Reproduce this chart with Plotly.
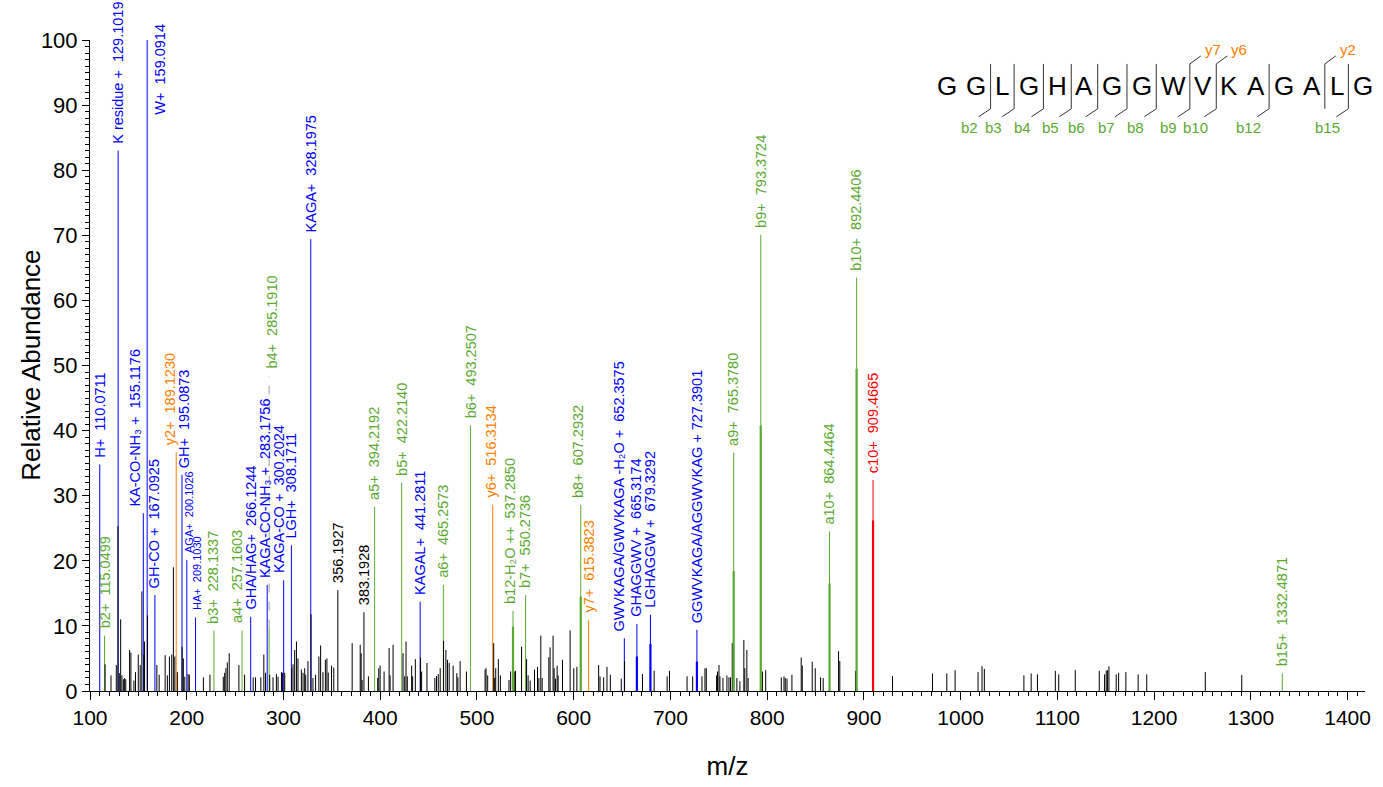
import plotly.graph_objects as go

# ---------------- annotated fragment ions ----------------
ion_mz = [110.0711, 115.0499, 129.1019, 155.1176, 159.0914, 167.0925, 189.1230, 195.0873,
          200.1026, 209.1030, 228.1337, 257.1603, 266.1244, 283.1756, 285.1910, 300.2024,
          308.1711, 328.1975, 356.1927, 383.1928, 394.2192, 422.2140, 441.2811, 465.2573,
          493.2507, 516.3134, 537.2850, 550.2736, 607.2932, 615.3823, 652.3575, 665.3174,
          679.3292, 727.3901, 765.3780, 793.3724, 864.4464, 892.4406, 909.4665, 1332.4871]
ion_int = [34.8, 8.5, 83.0, 27.3, 100.0, 14.75, 36.7, 33.2,
           20.1, 11.3, 9.3, 9.3, 11.4, 16.3, 9.6, 17.0,
           22.4, 69.4, 15.5, 12.1, 28.3, 32.0, 13.7, 16.3,
           40.8, 28.6, 12.3, 14.75, 28.6, 10.9, 8.1, 10.3,
           11.7, 9.4, 36.6, 70.1, 24.5, 63.5, 32.4, 2.7]
# darker centroid core drawn inside some annotated sticks
ion_core = [None, None, None, None, None, None, None, None,
            None, None, None, None, None, None, None, None,
            None, None, None, None, None, None, None, None,
            None, None, 9.9, None, 14.5, None, None, 5.3,
            7.2, 4.5, 18.4, 40.8, 16.5, 49.5, 26.2, None]
ion_label = ["H+  110.0711", "b2+  115.0499", "K residue +  129.1019", "KA-CO-NH\u2083 +  155.1176",
             "W+  159.0914", "GH-CO +  167.0925", "y2+  189.1230", "GH+  195.0873",
             "AGA+  200.1026", "HA+  209.1030", "b3+  228.1337", "a4+  257.1603",
             "GHA/HAG+  266.1244", "KAGA-CO-NH\u2083 +  283.1756", "b4+  285.1910", "KAGA-CO +  300.2024",
             "LGH+  308.1711", "KAGA+  328.1975", "356.1927", "383.1928",
             "a5+  394.2192", "b5+  422.2140", "KAGAL+  441.2811", "a6+  465.2573",
             "b6+  493.2507", "y6+  516.3134", "b12-H\u2082O ++  537.2850", "b7+  550.2736",
             "b8+  607.2932", "y7+  615.3823", "GWVKAGA/GWVKAGA -H\u2082O +  652.3575", "GHAGGWV +  665.3174",
             "LGHAGGW +  679.3292", "GGWVKAGA/AGGWVKAG + 727.3901", "a9+  765.3780", "b9+  793.3724",
             "a10+  864.4464", "b10+  892.4406", "c10+  909.4665", "b15+  1332.4871"]
ion_kind = ["int", "b", "int", "int", "int", "int", "y", "int",
            "int", "int", "b", "b", "int", "int", "b", "int",
            "int", "int", "unk", "unk", "b", "b", "int", "b",
            "b", "y", "b", "b", "b", "y", "int", "int",
            "int", "int", "b", "b", "b", "b", "c", "b"]

# ---------------- unassigned peaks ----------------
peak_mz = [115.6, 121.7, 127.2, 128.9, 130.3, 131.7, 133.0, 134.5, 135.8, 137.0,
           140.9, 142.3, 145.4, 147.0, 149.9, 151.9, 153.6, 155.7, 156.4, 159.4,
           169.1, 171.5, 177.7, 180.0, 182.1, 184.5, 186.2, 187.7, 190.3, 195.2,
           196.5, 198.0, 201.4, 202.7, 217.2, 224.0, 237.8, 239.2, 240.5, 241.9,
           243.9, 253.9, 259.8, 268.7, 271.1, 276.6, 279.7, 281.4, 285.8, 289.2,
           292.7, 294.4, 297.9, 298.9, 301.3, 308.5, 309.9, 311.6, 313.4, 315.0,
           318.5, 320.2, 321.9, 323.0, 325.3, 328.5, 330.5, 333.2, 336.6, 338.4,
           340.8, 343.3, 344.9, 346.3, 349.7, 352.0, 371.0, 379.3, 380.3, 381.3,
           387.8, 397.4, 398.5, 399.9, 404.0, 409.2, 410.2, 413.3, 423.6, 425.3,
           426.7, 428.0, 432.5, 433.5, 436.3, 441.7, 442.8, 448.3, 456.5, 458.2,
           460.0, 462.0, 465.5, 467.9, 469.6, 471.3, 475.4, 479.2, 480.3, 482.6,
           489.1, 508.4, 509.4, 511.1, 517.3, 518.3, 519.4, 522.1, 524.2, 533.1,
           534.8, 538.5, 539.9, 546.1, 551.3, 552.9, 555.0, 559.5, 562.6, 564.0,
           566.0, 567.4, 574.3, 575.6, 578.7, 579.8, 581.2, 582.9, 583.9, 588.4,
           596.3, 600.1, 603.3, 625.8, 627.2, 631.0, 634.4, 637.9, 649.2, 652.6,
           671.1, 683.2, 696.6, 699.0, 717.2, 723.0, 732.6, 735.7, 737.1, 747.7,
           748.7, 750.2, 751.2, 754.3, 758.4, 760.5, 762.1, 763.9, 768.7, 771.8,
           775.9, 776.9, 779.0, 780.3, 795.1, 798.5, 814.6, 817.4, 818.7, 820.5,
           825.6, 835.2, 836.3, 846.6, 849.7, 855.2, 857.9, 873.8, 875.1, 891.3,
           929.6, 970.9, 985.7, 994.3, 1018.0, 1022.1, 1024.5, 1065.4, 1072.9, 1079.4,
           1097.9, 1101.4, 1118.5, 1143.3, 1148.8, 1150.5, 1151.9, 1153.3, 1160.8, 1163.3,
           1170.8, 1183.5, 1192.4, 1252.9, 1290.6]
peak_int = [4.1, 2.4, 4.0, 25.3, 2.75, 11.0, 2.4, 1.8, 2.0, 1.8,
            6.3, 5.9, 1.6, 2.9, 5.6, 4.0, 15.3, 5.6, 7.6, 11.6,
            4.0, 2.5, 5.5, 2.4, 5.3, 5.6, 19.0, 5.3, 2.9, 6.8,
            5.0, 2.2, 2.6, 2.5, 2.1, 2.5, 2.2, 2.8, 3.5, 4.4,
            5.8, 4.0, 2.5, 2.1, 2.1, 2.1, 5.6, 2.8, 2.5, 2.1,
            2.6, 2.2, 2.9, 2.8, 2.8, 3.5, 4.1, 6.3, 7.6, 5.0,
            3.3, 2.8, 3.5, 2.5, 4.6, 11.8, 2.0, 2.5, 5.3, 7.0,
            2.9, 4.8, 5.0, 2.8, 3.9, 3.6, 7.35, 7.1, 5.8, 1.7,
            2.25, 2.0, 3.5, 3.9, 3.0, 6.6, 2.4, 7.1, 5.8, 2.25,
            7.6, 2.25, 3.9, 2.25, 4.9, 5.15, 3.0, 4.3, 2.0, 2.3,
            2.6, 3.5, 7.7, 6.3, 4.8, 4.3, 3.9, 2.75, 2.1, 4.6,
            3.0, 3.3, 3.5, 2.4, 7.35, 2.0, 3.5, 4.9, 2.4, 1.7,
            3.0, 3.0, 3.1, 6.8, 4.9, 2.4, 1.6, 3.3, 3.7, 2.0,
            8.5, 2.0, 5.2, 6.7, 8.5, 3.5, 1.9, 3.9, 2.4, 4.8,
            9.3, 3.5, 3.7, 4.0, 2.25, 2.1, 3.7, 2.5, 1.9, 4.6,
            2.6, 3.1, 2.25, 3.1, 2.25, 2.25, 2.25, 3.5, 3.5, 2.4,
            3.0, 4.0, 2.25, 2.0, 2.4, 2.1, 2.1, 7.35, 2.0, 1.5,
            7.85, 3.5, 6.3, 2.0, 3.0, 3.2, 2.1, 2.25, 2.0, 1.9,
            2.5, 5.15, 3.9, 4.5, 3.5, 2.1, 2.0, 6.1, 4.6, 3.1,
            2.3, 2.7, 2.7, 3.2, 2.9, 3.8, 3.4, 2.4, 2.7, 2.55,
            3.1, 2.55, 3.2, 3.1, 2.55, 3.15, 3.2, 3.8, 2.55, 2.8,
            2.9, 2.55, 2.55, 2.9, 2.45]

# ---------------- peptide fragmentation map ----------------
sequence = "GGLGHAGGWVKAGALG"
b_ions = [2, 3, 4, 5, 6, 7, 8, 9, 10, 12, 15]
y_ions = [7, 6, 2]

x_range = [100, 1418]
y_range = [0, 100]

# ---------------- styling ----------------
COLORS = {"b": "#5aaa32", "y": "#ff8000", "c": "#ff0000", "int": "#0000ff", "unk": "#000000"}
FONT = "Arial, 'Liberation Sans', sans-serif"
LABEL_SIZE = 14.5
SMALL_LABELS = {200.1026, 209.1030}
# (horizontal pixel shift, label baseline height override) for crowded labels
LABEL_PLACE = {
    155.1176: (-8, None), 159.0914: (12, 87.4), 189.1230: (-6, None), 195.0873: (2, None),
    200.1026: (2, None), 209.1030: (2, None), 228.1337: (-1, None), 257.1603: (-5, None),
    283.1756: (-2, None), 285.1910: (3, 48.4), 300.2024: (-4, None), 516.3134: (-2, None),
    537.2850: (-3, None), 607.2932: (-2, None), 652.3575: (-5, None), 665.3174: (-1, None),
    864.4464: (-1, None),
}

W, H = 1383, 787
ML, MR, MT, MB = 90, 13, 40, 94
PW, PH = W - ML - MR, H - MT - MB


def px(xp):
    return (xp - ML) / PW


def py(yp):
    return (H - MB - yp) / PH


def stems(xs, ys):
    X, Y = [], []
    for x, y in zip(xs, ys):
        X += [x, x, None]
        Y += [0, y, None]
    return X, Y


fig = go.Figure()

# thin annotated sticks, grouped by ion class
for kind, col in COLORS.items():
    sel = [(m, h) for m, h, k in zip(ion_mz, ion_int, ion_kind) if k == kind]
    if not sel:
        continue
    X, Y = stems([s[0] for s in sel], [s[1] for s in sel])
    fig.add_trace(go.Scatter(x=X, y=Y, mode="lines", line=dict(color=col, width=1),
                             hoverinfo="skip", showlegend=False))

# unassigned peaks
X, Y = stems(peak_mz, peak_int)
fig.add_trace(go.Scatter(x=X, y=Y, mode="lines", line=dict(color="#000000", width=1),
                         hoverinfo="skip", showlegend=False))

# darker cores of annotated sticks
for kind, col in COLORS.items():
    sel = [(m, c) for m, c, k in zip(ion_mz, ion_core, ion_kind) if k == kind and c is not None]
    if not sel:
        continue
    X, Y = stems([s[0] for s in sel], [s[1] for s in sel])
    fig.add_trace(go.Scatter(x=X, y=Y, mode="lines", line=dict(color=col, width=2.2),
                             hoverinfo="skip", showlegend=False))

annotations = []
shapes = []

# rotated peak labels
for m, h, lab, k in zip(ion_mz, ion_int, ion_label, ion_kind):
    dx, y_over = LABEL_PLACE.get(m, (0, None))
    y_lab = h if y_over is None else y_over
    size = 11 if m in SMALL_LABELS else LABEL_SIZE
    annotations.append(dict(x=m, y=y_lab, xref="x", yref="y", text=lab, textangle=-90,
                            showarrow=False, xanchor="center", yanchor="bottom",
                            xshift=dx, yshift=5, font=dict(family=FONT, size=size, color=COLORS[k])))
    # dashed leader when a label had to be lifted above its peak
    if y_over is not None and y_over > h + 5:
        shapes.append(dict(type="line", xref="x", yref="y", x0=m, x1=m, y0=h, y1=y_over,
                           line=dict(color="#a0a0a0", width=1, dash="dash")))

# peptide sequence with cleavage markers
ADV = {"G": 0.778, "L": 0.556, "H": 0.722, "A": 0.667, "W": 0.944, "V": 0.667, "K": 0.667}
SEQ_SIZE = 26
first_c, last_c = 950, 1368
widths = [ADV[a] * SEQ_SIZE for a in sequence]
span = sum(widths) - (widths[0] + widths[-1]) / 2
gap = (last_c - first_c - span) / (len(sequence) - 1)
centers = [first_c]
for i in range(1, len(sequence)):
    centers.append(centers[-1] + (widths[i - 1] + widths[i]) / 2 + gap)
for a, c in zip(sequence, centers):
    annotations.append(dict(x=px(c), y=py(86), xref="paper", yref="paper", text=a,
                            showarrow=False, xanchor="center", yanchor="middle",
                            font=dict(family=FONT, size=SEQ_SIZE, color="#000000")))


def cut_x(i):
    return centers[i - 1] + widths[i - 1] / 2 + gap / 2


line_style = dict(color="#333333", width=1)
cuts = sorted(set(b_ions) | {len(sequence) - n for n in y_ions})
for i in cuts:
    cx = cut_x(i)
    shapes.append(dict(type="line", xref="paper", yref="paper", x0=px(cx), x1=px(cx),
                       y0=py(64), y1=py(109), line=line_style))
for n in b_ions:
    cx = cut_x(n)
    shapes.append(dict(type="line", xref="paper", yref="paper", x0=px(cx), x1=px(cx - 12),
                       y0=py(109), y1=py(117), line=line_style))
    annotations.append(dict(x=px(cx - 21), y=py(128), xref="paper", yref="paper", text=f"b{n}",
                            showarrow=False, xanchor="center", yanchor="middle",
                            font=dict(family=FONT, size=15, color=COLORS["b"])))
for n in y_ions:
    cx = cut_x(len(sequence) - n)
    shapes.append(dict(type="line", xref="paper", yref="paper", x0=px(cx), x1=px(cx + 11),
                       y0=py(64), y1=py(56), line=line_style))
    annotations.append(dict(x=px(cx + 23), y=py(50), xref="paper", yref="paper", text=f"y{n}",
                            showarrow=False, xanchor="center", yanchor="middle",
                            font=dict(family=FONT, size=15, color=COLORS["y"])))

# y-axis title placed explicitly
annotations.append(dict(x=px(30), y=0.5, xref="paper", yref="paper", text="Relative Abundance",
                        textangle=-90, showarrow=False, xanchor="center", yanchor="middle",
                        font=dict(family=FONT, size=26, color="#000000")))

fig.update_layout(
    width=W, height=H,
    margin=dict(l=ML, r=MR, t=MT, b=MB),
    plot_bgcolor="white", paper_bgcolor="white",
    showlegend=False,
    font=dict(family=FONT, color="#000000"),
    annotations=annotations,
    shapes=shapes,
)
fig.update_xaxes(
    range=x_range, tickmode="linear", tick0=100, dtick=100,
    ticks="outside", ticklen=8, tickwidth=1, tickcolor="#000000",
    showline=True, linecolor="#000000", linewidth=1,
    showgrid=False, zeroline=False,
    tickfont=dict(family=FONT, size=21, color="#000000"),
    minor=dict(dtick=10, ticks="outside", ticklen=4, tickcolor="#000000", showgrid=False),
    title=dict(text="m/z", font=dict(family=FONT, size=26, color="#000000"), standoff=28),
)
fig.update_yaxes(
    range=y_range, tickmode="linear", tick0=0, dtick=10,
    ticks="outside", ticklen=7, tickwidth=1, tickcolor="#000000",
    showline=True, linecolor="#000000", linewidth=1,
    showgrid=False, zeroline=False,
    tickfont=dict(family=FONT, size=22, color="#000000"),
    minor=dict(dtick=1, ticks="outside", ticklen=4, tickcolor="#000000", showgrid=False),
)

fig.write_html("out.html")
